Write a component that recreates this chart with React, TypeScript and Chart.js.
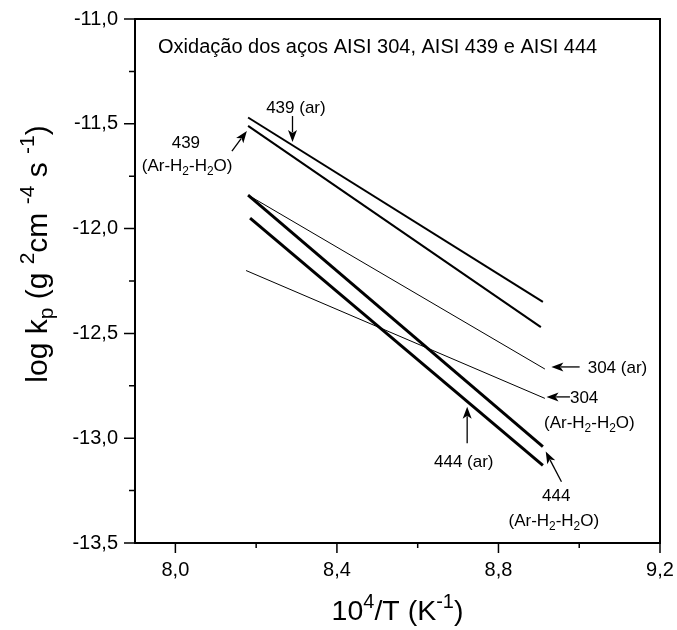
import { useEffect, useRef } from 'react';
import { Chart, registerables } from 'chart.js';

Chart.register(...registerables);

const FONT = "'Liberation Sans', Arial, Helvetica, sans-serif";

// ---- data ----
const seriesLabels = ['439 (ar)', '439 (Ar-H2-H2O)', '304 (ar)', '304 (Ar-H2-H2O)', '444 (ar)', '444 (Ar-H2-H2O)'];
const x439ar = [8.18, 8.91];
const y439ar = [-11.47, -12.35];
const x439h = [8.18, 8.905];
const y439h = [-11.51, -12.47];
const x304ar = [8.18, 8.915];
const y304ar = [-11.84, -12.67];
const x304h = [8.175, 8.915];
const y304h = [-12.2, -12.81];
const x444ar = [8.185, 8.91];
const y444ar = [-11.95, -13.13];
const x444h = [8.18, 8.91];
const y444h = [-11.84, -13.04];

const xMajorTicks = [8.0, 8.4, 8.8, 9.2];
const xMinorTicks = [8.2, 8.6, 9.0];
const yMajorTicks = [-11.0, -11.5, -12.0, -12.5, -13.0, -13.5];
const yMinorTicks = [-11.25, -11.75, -12.25, -12.75, -13.25];

const titleText = 'Oxidação dos aços AISI 304, AISI 439 e AISI 444';

type Seg = [string, 'n' | 'sub' | 'sup'];
const AR_H2O: Seg[] = [['(Ar-H', 'n'], ['2', 'sub'], ['-H', 'n'], ['2', 'sub'], ['O)', 'n']];

// annotation texts & arrows in data coordinates
const annTexts: { segs: Seg[]; x: number; y: number; align: CanvasTextAlign }[] = [
  { segs: [['439 (ar)', 'n']], x: 8.2985, y: -11.42, align: 'center' },
  { segs: [['439', 'n']], x: 8.026, y: -11.587, align: 'center' },
  { segs: AR_H2O, x: 8.029, y: -11.697, align: 'center' },
  { segs: [['304 (ar)', 'n']], x: 9.021, y: -12.66, align: 'left' },
  { segs: [['304', 'n']], x: 8.977, y: -12.803, align: 'left' },
  { segs: AR_H2O, x: 9.025, y: -12.921, align: 'center' },
  { segs: [['444 (ar)', 'n']], x: 8.714, y: -13.109, align: 'center' },
  { segs: [['444', 'n']], x: 8.943, y: -13.271, align: 'center' },
  { segs: AR_H2O, x: 8.937, y: -13.39, align: 'center' },
];
const annArrows: { from: [number, number]; to: [number, number] }[] = [
  { from: [8.29, -11.463], to: [8.29, -11.587] },
  { from: [8.14, -11.63], to: [8.177, -11.534] },
  { from: [9.001, -12.66], to: [8.931, -12.66] },
  { from: [8.977, -12.803], to: [8.919, -12.803] },
  { from: [8.7225, -13.024], to: [8.7225, -12.85] },
  { from: [8.956, -13.208], to: [8.917, -13.064] },
];

const fmt = (v: number) => v.toFixed(1).replace('.', ',');

function drawRich(ctx: CanvasRenderingContext2D, segs: Seg[], x: number, y: number, size: number, align: CanvasTextAlign) {
  const parts = segs.map(([t, k]) => {
    const fs = k === 'n' ? size : size * 0.7;
    ctx.font = `${fs}px ${FONT}`;
    return { t, k, fs, w: ctx.measureText(t).width };
  });
  const total = parts.reduce((a, p) => a + p.w, 0);
  let cx = align === 'center' ? x - total / 2 : align === 'right' ? x - total : x;
  const base = y + size * 0.36;
  ctx.textAlign = 'left';
  ctx.textBaseline = 'alphabetic';
  for (const p of parts) {
    const dy = p.k === 'sup' ? -size * 0.42 : p.k === 'sub' ? size * 0.22 : 0;
    ctx.font = `${p.fs}px ${FONT}`;
    ctx.fillText(p.t, cx, base + dy);
    cx += p.w;
  }
}

const decorPlugin = {
  id: 'decor',
  afterDraw(chart: any) {
    const { ctx, chartArea: a, scales } = chart;
    const xs = scales.x;
    const ys = scales.y;
    ctx.save();
    ctx.strokeStyle = '#000';
    ctx.fillStyle = '#000';
    // frame
    ctx.lineWidth = 2;
    ctx.strokeRect(a.left, a.top, a.right - a.left, a.bottom - a.top);
    // ticks
    ctx.lineWidth = 1.5;
    ctx.beginPath();
    xMajorTicks.forEach((v) => { const p = xs.getPixelForValue(v); ctx.moveTo(p, a.bottom); ctx.lineTo(p, a.bottom + 10); });
    xMinorTicks.forEach((v) => { const p = xs.getPixelForValue(v); ctx.moveTo(p, a.bottom); ctx.lineTo(p, a.bottom + 5); });
    yMajorTicks.forEach((v) => { const p = ys.getPixelForValue(v); ctx.moveTo(a.left, p); ctx.lineTo(a.left - 11, p); });
    yMinorTicks.forEach((v) => { const p = ys.getPixelForValue(v); ctx.moveTo(a.left, p); ctx.lineTo(a.left - 6, p); });
    ctx.stroke();

    // title inside plot
    drawRich(ctx, [[titleText, 'n']], xs.getPixelForValue(7.957), ys.getPixelForValue(-11.129), 20, 'left');

    // annotation texts
    annTexts.forEach((t) => drawRich(ctx, t.segs, xs.getPixelForValue(t.x), ys.getPixelForValue(t.y), 17, t.align));

    // arrows
    annArrows.forEach((ar) => {
      const x1 = xs.getPixelForValue(ar.from[0]);
      const y1 = ys.getPixelForValue(ar.from[1]);
      const x2 = xs.getPixelForValue(ar.to[0]);
      const y2 = ys.getPixelForValue(ar.to[1]);
      const ang = Math.atan2(y2 - y1, x2 - x1);
      const L = 12;
      const W = 4.5;
      ctx.lineWidth = 1.3;
      ctx.beginPath();
      ctx.moveTo(x1, y1);
      ctx.lineTo(x2 - Math.cos(ang) * L * 0.8, y2 - Math.sin(ang) * L * 0.8);
      ctx.stroke();
      ctx.beginPath();
      ctx.moveTo(x2, y2);
      ctx.lineTo(x2 - Math.cos(ang) * L - Math.sin(ang) * W, y2 - Math.sin(ang) * L + Math.cos(ang) * W);
      ctx.lineTo(x2 - Math.cos(ang) * L * 0.75, y2 - Math.sin(ang) * L * 0.75);
      ctx.lineTo(x2 - Math.cos(ang) * L + Math.sin(ang) * W, y2 - Math.sin(ang) * L - Math.cos(ang) * W);
      ctx.closePath();
      ctx.fill();
    });

    // axis titles
    const midX = (a.left + a.right) / 2;
    drawRich(ctx, [['10', 'n'], ['4', 'sup'], ['/T (K', 'n'], ['-1', 'sup'], [')', 'n']], midX, 610, 28.5, 'center');
    ctx.save();
    ctx.translate(36, 254);
    ctx.rotate(-Math.PI / 2);
    drawRich(ctx, [['log k', 'n'], ['p', 'sub'], [' (g ', 'n'], ['2', 'sup'], ['cm ', 'n'], ['-4', 'sup'], [' s ', 'n'], ['-1', 'sup'], [')', 'n']], 0, 0, 30, 'center');
    ctx.restore();
    ctx.restore();
  },
};

export default function App() {
  const ref = useRef<HTMLCanvasElement>(null);
  useEffect(() => {
    if (!ref.current) return;
    const mk = (xs: number[], ys: number[]) => xs.map((x, i) => ({ x, y: ys[i] }));
    const widths = [2, 2, 1, 1, 3, 3];
    const sets = [
      mk(x439ar, y439ar),
      mk(x439h, y439h),
      mk(x304ar, y304ar),
      mk(x304h, y304h),
      mk(x444ar, y444ar),
      mk(x444h, y444h),
    ];
    const chart = new Chart(ref.current, {
      type: 'scatter',
      data: {
        datasets: sets.map((d, i) => ({
          label: seriesLabels[i],
          data: d,
          showLine: true,
          pointRadius: 0,
          borderColor: '#000',
          backgroundColor: '#000',
          borderWidth: widths[i],
          tension: 0,
        })),
      },
      options: {
        responsive: false,
        animation: false,
        events: [],
        layout: { padding: { left: 0, top: 19, right: 17, bottom: 0 } },
        plugins: { legend: { display: false }, tooltip: { enabled: false }, title: { display: false } },
        scales: {
          x: {
            type: 'linear',
            min: 7.9,
            max: 9.2,
            afterBuildTicks: (s: any) => { s.ticks = xMajorTicks.map((v) => ({ value: v })); },
            afterFit: (s: any) => { s.height = 87; s.paddingLeft = 0; s.paddingRight = 0; },
            ticks: { callback: (v: any) => fmt(Number(v)), font: { family: FONT, size: 20 }, color: '#000', padding: 15, maxRotation: 0, autoSkip: false },
            grid: { display: false, drawTicks: false },
            border: { display: false },
          },
          y: {
            type: 'linear',
            min: -13.5,
            max: -11.0,
            afterBuildTicks: (s: any) => { s.ticks = yMajorTicks.map((v) => ({ value: v })); },
            afterFit: (s: any) => { s.width = 135; s.paddingTop = 0; s.paddingBottom = 0; },
            ticks: { callback: (v: any) => fmt(Number(v)), font: { family: FONT, size: 20 }, color: '#000', padding: 17, autoSkip: false },
            grid: { display: false, drawTicks: false },
            border: { display: false },
          },
        },
      },
      plugins: [decorPlugin],
    });
    return () => chart.destroy();
  }, []);
  return (
    <div style={{ position: 'fixed', left: 0, top: 0, width: 677, height: 630, background: '#fff' }}>
      <canvas ref={ref} width={677} height={630} />
    </div>
  );
}
